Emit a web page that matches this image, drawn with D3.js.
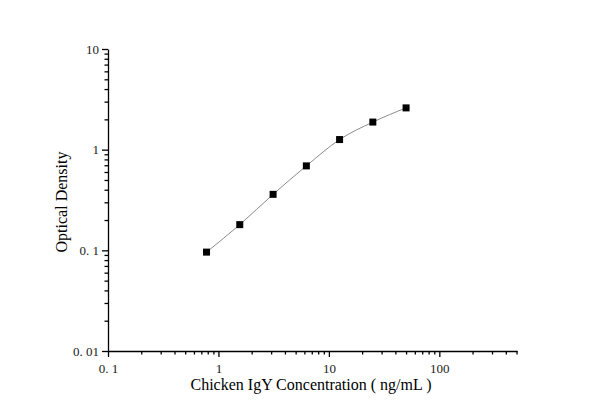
<!DOCTYPE html>
<html>
  <head>
  </head>
  <body style="margin:0;background:#fff">
    <script src="https://d3js.org/d3.v7.min.js"></script>
    <script>
      // standard curve values
      const concentrations = [0.78, 1.56, 3.125, 6.25, 12.5, 25, 50];
      const densities = [0.096, 0.18, 0.36, 0.69, 1.26, 1.88, 2.6];
      const xTicks = [0.1, 1, 10, 100];
      const xTickLabels = ['0. 1', '1', '10', '100'];
      const yTicks = [0.01, 0.1, 1, 10];
      const yTickLabels = ['0. 01', '0. 1', '1', '10'];
      const xLabel = 'Chicken IgY Concentration ( ng/mL )';
      const yLabel = 'Optical Density';

      const serif = '"Liberation Serif"';
      const width = 600;
      const height = 419;
      const margin = { top: 49, right: 83, bottom: 68, left: 108 };

      const svg = d3.select('body').append('svg')
        .attr('width', width)
        .attr('height', height);

      const x = d3.scaleLog()
        .domain([0.1, 505])
        .range([margin.left, width - margin.right]);

      const y = d3.scaleLog()
        .domain([0.01, 10])
        .range([height - margin.bottom, margin.top]);

      // minor ticks 2..9 inside each decade
      function minors(lo, hi) {
        const out = [];
        for (let e = Math.floor(Math.log10(lo)); e <= Math.ceil(Math.log10(hi)); e++) {
          for (let k = 2; k <= 9; k++) {
            const v = k * Math.pow(10, e);
            if (v >= lo && v <= hi) out.push(v);
          }
        }
        return out;
      }

      function styleAxis(g) {
        g.selectAll('path, line').style('stroke', '#000').style('stroke-width', 1.3);
        g.selectAll('text')
          .style('font-family', serif)
          .style('font-size', '13px')
          .style('fill', '#222');
      }

      svg.append('g')
        .attr('transform', `translate(0,${height - margin.bottom})`)
        .call(d3.axisBottom(x).tickValues(minors(0.1, 505)).tickSize(3.5).tickFormat(''))
        .call(g => g.select('.domain').remove())
        .call(styleAxis);

      svg.append('g')
        .attr('class', 'x-axis')
        .attr('transform', `translate(0,${height - margin.bottom})`)
        .call(d3.axisBottom(x)
          .tickValues(xTicks)
          .tickSize(6)
          .tickSizeOuter(0)
          .tickPadding(7)
          .tickFormat((d, i) => xTickLabels[i]))
        .call(styleAxis);

      svg.append('g')
        .attr('transform', `translate(${margin.left},0)`)
        .call(d3.axisLeft(y).tickValues(minors(0.01, 10)).tickSize(3.5).tickFormat(''))
        .call(g => g.select('.domain').remove())
        .call(styleAxis);

      svg.append('g')
        .attr('class', 'y-axis')
        .attr('transform', `translate(${margin.left},0)`)
        .call(d3.axisLeft(y)
          .tickValues(yTicks)
          .tickSize(6)
          .tickSizeOuter(0)
          .tickPadding(3)
          .tickFormat((d, i) => yTickLabels[i]))
        .call(styleAxis);

      const data = concentrations.map((c, i) => ({ c: c, v: densities[i] }));

      const line = d3.line()
        .x(d => x(d.c))
        .y(d => y(d.v))
        .curve(d3.curveMonotoneX);

      svg.append('path')
        .datum(data)
        .attr('fill', 'none')
        .attr('stroke', '#8c8c8c')
        .attr('stroke-width', 1)
        .attr('d', line);

      const size = 7;
      svg.append('g')
        .selectAll('rect')
        .data(data)
        .join('rect')
        .attr('fill', '#000')
        .attr('x', d => x(d.c) - size / 2)
        .attr('y', d => y(d.v) - size / 2)
        .attr('width', size)
        .attr('height', size);

      svg.append('text')
        .attr('x', 311)
        .attr('y', 390)
        .attr('text-anchor', 'middle')
        .style('font-family', serif)
        .style('font-size', '16px')
        .text(xLabel);

      svg.append('text')
        .attr('transform', `translate(67,${(y(0.1) + y(1)) / 2 + 2}) rotate(-90)`)
        .attr('text-anchor', 'middle')
        .style('font-family', serif)
        .style('font-size', '16px')
        .text(yLabel);
    </script>
  </body>
</html>
